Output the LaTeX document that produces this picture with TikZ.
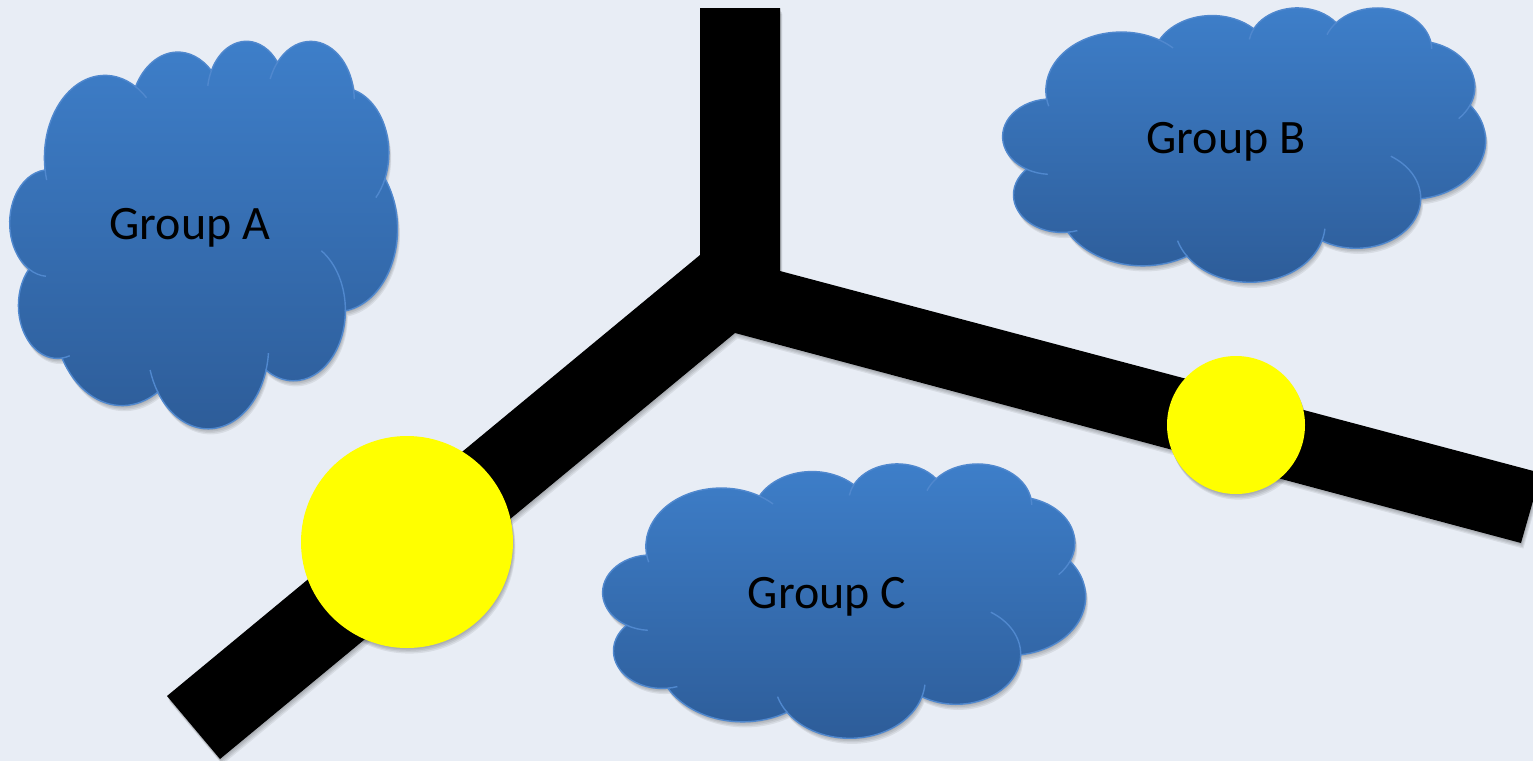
\documentclass[tikz,border=0pt]{standalone}
\usepackage{fontspec}
\setmainfont{Carlito}
\definecolor{bg}{RGB}{232,237,245}
\definecolor{ctop}{RGB}{62,127,202}
\definecolor{cbot}{RGB}{45,92,152}
\definecolor{cline}{RGB}{80,136,206}
\definecolor{sun}{RGB}{255,255,0}
% convert DrawingML (visual) angles to parametric angles
\newcommand\ooconv[5]{%
  \pgfmathsetmacro\ootmp{#4}%
  \pgfmathsetmacro\ooS{\ootmp+mod(atan2(#2*sin(\ootmp),#3*cos(\ootmp))-\ootmp+540,360)-180}%
  \pgfmathsetmacro\ootmp{#4+#5}%
  \pgfmathsetmacro\ooE{\ootmp+mod(atan2(#2*sin(\ootmp),#3*cos(\ootmp))-\ootmp+540,360)-180}%
  \expandafter\xdef\csname ooS#1\endcsname{\ooS}%
  \expandafter\xdef\csname ooE#1\endcsname{\ooE}%
}
\ooconv{a}{15.632}{21.273}{-190.4875}{123.7805}
\ooconv{b}{12.345}{16.822}{-144.1024}{89.9452}
\ooconv{c}{10.104}{13.762}{-145.8079}{99.7230}
\ooconv{d}{11.243}{15.266}{-130.9861}{117.2417}
\ooconv{e}{12.345}{16.836}{-78.7089}{109.0269}
\ooconv{f}{15.683}{21.343}{-46.2673}{130.2690}
\ooconv{g}{13.391}{18.211}{0.6250}{114.0333}
\ooconv{h}{15.630}{21.331}{22.4516}{115.1726}
\ooconv{i}{17.870}{24.405}{66.2426}{75.7110}
\ooconv{j}{10.093}{13.699}{-274.9421}{146.7356}
\ooconv{k}{10.058}{13.762}{-246.8285}{152.5189}
\newcommand\cloudpath{(9.028,33.264) coordinate (j0)
  arc[start angle=\ooSa, end angle=\ooEa, x radius=15.632, y radius=21.273] coordinate (j1)
  arc[start angle=\ooSb, end angle=\ooEb, x radius=12.345, y radius=16.822] coordinate (j2)
  arc[start angle=\ooSc, end angle=\ooEc, x radius=10.104, y radius=13.762] coordinate (j3)
  arc[start angle=\ooSd, end angle=\ooEd, x radius=11.243, y radius=15.266] coordinate (j4)
  arc[start angle=\ooSe, end angle=\ooEe, x radius=12.345, y radius=16.836] coordinate (j5)
  arc[start angle=\ooSf, end angle=\ooEf, x radius=15.683, y radius=21.343] coordinate (j6)
  arc[start angle=\ooSg, end angle=\ooEg, x radius=13.391, y radius=18.211] coordinate (j7)
  arc[start angle=\ooSh, end angle=\ooEh, x radius=15.630, y radius=21.331] coordinate (j8)
  arc[start angle=\ooSi, end angle=\ooEi, x radius=17.870, y radius=24.405] coordinate (j9)
  arc[start angle=\ooSj, end angle=\ooEj, x radius=10.093, y radius=13.699] coordinate (j10)
  arc[start angle=\ooSk, end angle=\ooEk, x radius=10.058, y radius=13.762] -- cycle}
\newcommand\cloudshape[4]{%
  \pgfmathsetmacro\cwx{#3*0.005}\pgfmathsetmacro\cwy{#4*0.005}%
  \begin{scope}[shift={(#1,#2)}, x=\cwx pt, y=-\cwy pt]
    \foreach \sx/\sy in {0.3/0.7,0.6/1.4,0.9/2.1,1.2/2.8}
      \fill[softshadow, shift={(\sx pt,-\sy pt)}] \cloudpath;
    \path[cloudbody] \cloudpath;
    \draw[hl] (j0) arc[start angle=\ooSa, delta angle=-8, x radius=15.632, y radius=21.273];
    \draw[hl] (j1) arc[start angle=\ooEa, delta angle=13, x radius=15.632, y radius=21.273];
    \draw[hl] (j2) arc[start angle=\ooSc, delta angle=-17, x radius=10.104, y radius=13.762];
    \draw[hl] (j3) arc[start angle=\ooSd, delta angle=-19, x radius=11.243, y radius=15.266];
    \draw[hl] (j4) arc[start angle=\ooEd, delta angle=9, x radius=11.243, y radius=15.266];
    \draw[hl] (j5) arc[start angle=\ooEe, delta angle=20, x radius=12.345, y radius=16.836];
    \draw[hl] (j6) arc[start angle=\ooSg, delta angle=-58, x radius=13.391, y radius=18.211];
    \draw[hl] (j7) arc[start angle=\ooSh, delta angle=-12, x radius=15.630, y radius=21.331];
    \draw[hl] (j8) arc[start angle=\ooEh, delta angle=17, x radius=15.630, y radius=21.331];
    \draw[hl] (j9) arc[start angle=\ooSj, delta angle=-11.5, x radius=10.093, y radius=13.699];
    \draw[hl] (j10) arc[start angle=\ooSk, delta angle=-26.4, x radius=10.058, y radius=13.762];
  \end{scope}}
\newcommand\ypath{(700,8) -- (780,8) -- (780,271) -- (1541,473) -- (1521,543) -- (735,333) -- (220,759) -- (167,696) -- (700,255) -- cycle}
\begin{document}
\begin{tikzpicture}[x=0.5pt,y=-0.5pt,
  cloudbody/.style={top color=ctop, bottom color=cbot, draw=cline, line width=0.7pt},
  hl/.style={draw=cline, line width=0.7pt},
  softshadow/.style={black, opacity=0.07},
  lbl/.style={anchor=base, font=\fontsize{24}{29}\selectfont, text=black, inner sep=0pt}]
\fill[bg] (0,0) rectangle (1533,761);
\useasboundingbox (0,0) rectangle (1533,761);
% clouds
\cloudshape{10}{40}{387}{387}
\cloudshape{1003}{7}{482}{274}
\cloudshape{603}{463}{482}{274}
\node[lbl] (ga) at (190,239) {Group A};
\node[lbl] (gb) at (1226,153) {Group B};
\node[lbl] (gc) at (827,608) {Group C};
% black Y shape
\foreach \sx/\sy in {0.3/0.7,0.6/1.4,0.9/2.1,1.2/2.8}
  \fill[softshadow, shift={(\sx pt,-\sy pt)}] \ypath;
\fill[black] \ypath;
% yellow discs
\foreach \cx/\cy/\r in {407/542/106, 1236/425/69}{
  \foreach \sx/\sy in {0.3/0.7,0.6/1.4,0.9/2.1,1.2/2.8}
    \fill[softshadow, shift={(\sx pt,-\sy pt)}] (\cx,\cy) circle[radius=\r];
  \fill[sun] (\cx,\cy) circle[radius=\r];
}
\end{tikzpicture}
\end{document}
